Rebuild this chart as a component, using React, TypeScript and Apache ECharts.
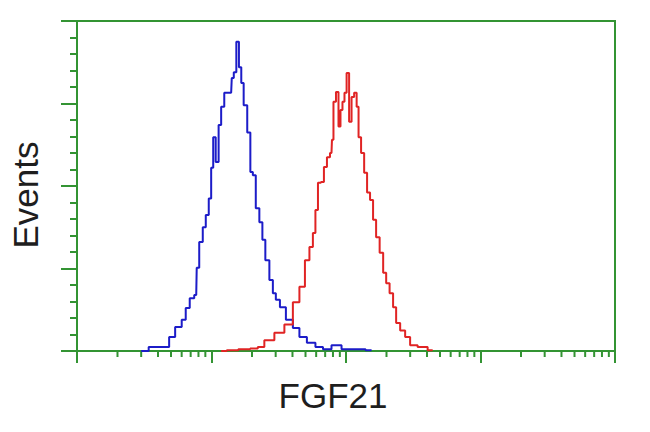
import React, { useEffect, useRef } from "react";
import * as echarts from "echarts";

// Blue histogram (control): [intensity, events]
const blueX = [3.0, 3.88, 4.68, 5.01, 5.75, 6.27, 6.6, 7.19, 7.7, 7.83, 8.39, 8.84, 9.3, 9.79, 10.1, 10.5, 11.0, 11.6, 12.0, 12.9, 14.0, 14.3, 15.0, 15.6, 16.4, 16.9, 17.8, 19.1, 19.8, 20.8, 21.9, 23.5, 24.3, 26.0, 27.9, 29.3, 30.9, 33.7, 37.9, 42.8, 47.4, 55.3, 63.5, 71.6, 85.0, 101, 126, 155];
const blueY = [0, 5, 5, 17, 29, 38, 52, 64, 68, 101, 132, 150, 165, 185, 222, 259, 229, 274, 296, 313, 313, 331, 338, 375, 344, 325, 298, 265, 217, 213, 173, 156, 135, 110, 86, 70, 62, 53, 38, 28, 17, 10, 5, 2, 7, 2, 2, 1];

// Red histogram (FGF21 stained)
const redX = [11.8, 14.3, 17.5, 21.5, 22.7, 26.9, 32.0, 37.9, 42.8, 47.4, 51.7, 55.3, 58.2, 60.3, 63.5, 66.8, 70.3, 74.1, 78.0, 79.3, 82.1, 86.4, 89.5, 92.5, 95.8, 99.1, 103, 108, 112, 118, 122, 126, 133, 140, 147, 155, 163, 172, 184, 194, 204, 218, 230, 242, 264, 287, 313, 371, 441];
const redY = [0, 1, 2, 3, 5, 13, 22, 32, 59, 78, 110, 126, 143, 171, 204, 205, 223, 235, 240, 256, 302, 314, 272, 292, 302, 313, 337, 278, 308, 313, 296, 259, 240, 216, 192, 183, 159, 138, 119, 95, 82, 70, 53, 34, 25, 17, 7, 5, 1];

// Minor tick positions on the log x axis
const minorTickX = [2, 3, 4, 5, 6, 7, 8, 9, 20, 30, 40, 50, 60, 70, 80, 90, 200, 300, 400, 500, 600, 700, 800, 900, 2000, 3000, 4000, 5000, 6000, 7000, 8000, 9000];

const xLabel = "FGF21";
const yLabel = "Events";

const GREEN = "#339433";

export default function App() {
  const ref = useRef<HTMLDivElement>(null);
  useEffect(() => {
    if (!ref.current) return;
    const chart = echarts.init(ref.current, undefined, { renderer: "svg" });
    chart.setOption({
      animation: false,
      backgroundColor: "#ffffff",
      grid: {
        left: 77,
        right: 35,
        top: 21,
        bottom: 81,
        show: true,
        borderColor: GREEN,
        borderWidth: 2,
      },
      xAxis: {
        type: "log",
        logBase: 10,
        min: 1,
        max: 10000,
        axisLine: { show: true, lineStyle: { color: GREEN, width: 2 } },
        axisTick: { show: true, length: 12, lineStyle: { color: GREEN, width: 2 } },
        axisLabel: { show: false },
        splitLine: { show: false },
      },
      yAxis: {
        type: "value",
        min: 0,
        max: 400,
        interval: 100,
        axisLine: { show: true, lineStyle: { color: GREEN, width: 2 } },
        axisTick: { show: true, length: 16, lineStyle: { color: GREEN, width: 2 } },
        minorTick: { show: true, splitNumber: 5, length: 7, lineStyle: { color: GREEN, width: 2 } },
        axisLabel: { show: false },
        splitLine: { show: false },
      },
      graphic: [
        {
          type: "text",
          x: 25,
          y: 195,
          rotation: Math.PI / 2,
          style: {
            text: yLabel,
            fontSize: 35,
            fontFamily: "Liberation Sans, Arial, sans-serif",
            fill: "#1e1e1e",
            align: "center",
            verticalAlign: "middle",
          },
        },
        {
          type: "text",
          x: 333,
          y: 395,
          style: {
            text: xLabel,
            fontSize: 35,
            fontFamily: "Liberation Sans, Arial, sans-serif",
            fill: "#1e1e1e",
            align: "center",
            verticalAlign: "middle",
          },
        },
      ],
      series: [
        {
          type: "custom",
          silent: true,
          data: minorTickX.map((v) => [v, 0]),
          renderItem: (params: any, api: any) => {
            const p = api.coord([api.value(0), 0]);
            return {
              type: "line",
              shape: { x1: p[0], y1: p[1], x2: p[0], y2: p[1] + 6 },
              style: { stroke: GREEN, lineWidth: 2 },
            };
          },
          z: 1,
        },
        {
          type: "line",
          data: blueX.map((x, i) => [x, blueY[i]]),
          step: "middle",
          showSymbol: false,
          lineStyle: { color: "#1c1cc8", width: 2 },
          z: 3,
        },
        {
          type: "line",
          data: redX.map((x, i) => [x, redY[i]]),
          step: "middle",
          showSymbol: false,
          lineStyle: { color: "#e02424", width: 2 },
          z: 4,
        },
      ],
    });
    return () => chart.dispose();
  }, []);
  return <div ref={ref} style={{ width: 650, height: 432, position: "absolute", left: 0, top: 0 }} />;
}
